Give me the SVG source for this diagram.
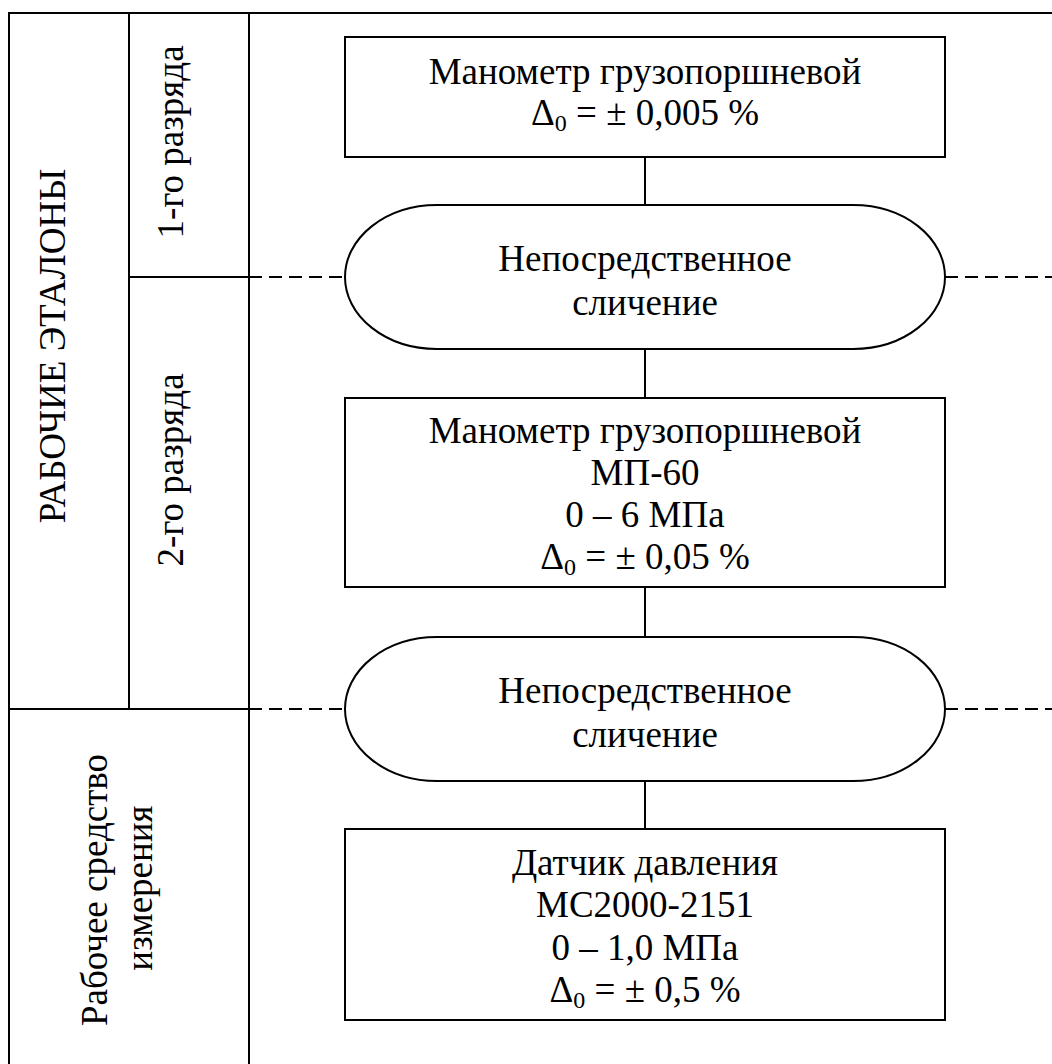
<svg xmlns="http://www.w3.org/2000/svg" width="1052" height="1064" viewBox="0 0 1052 1064">
<style>
  .ln{stroke:#000;stroke-width:2;fill:none}
  .dash{stroke:#000;stroke-width:2;fill:none;stroke-dasharray:13 7}
  .shape{stroke:#000;stroke-width:2;fill:#fff}
  .t{font-family:"Liberation Serif","Times New Roman",serif;font-size:37px;fill:#000;text-anchor:middle}
  .sub{font-size:24px}
</style>
<rect width="1052" height="1064" fill="#fff"/>
<g id="frame">
  <line class="ln" x1="9" y1="13" x2="1052" y2="13"/>
  <line class="ln" x1="9" y1="12" x2="9" y2="1064"/>
  <line class="ln" x1="129" y1="13" x2="129" y2="709"/>
  <line class="ln" x1="249" y1="13" x2="249" y2="1064"/>
  <line class="ln" x1="129" y1="277" x2="249" y2="277"/>
  <line class="ln" x1="9" y1="709" x2="249" y2="709"/>
  <text class="t" transform="translate(65,346) rotate(-90)">РАБОЧИЕ ЭТАЛОНЫ</text>
  <text class="t" transform="translate(183,142) rotate(-90)">1-го разряда</text>
  <text class="t" transform="translate(183,470) rotate(-90)">2-го разряда</text>
  <text class="t" transform="translate(107,890) rotate(-90)">Рабочее средство</text>
  <text class="t" transform="translate(152,888) rotate(-90)">измерения</text>
</g>
<g id="connectors">
  <line class="ln" x1="645" y1="157" x2="645" y2="205"/>
  <line class="ln" x1="645" y1="349" x2="645" y2="398"/>
  <line class="ln" x1="645" y1="587" x2="645" y2="637"/>
  <line class="ln" x1="645" y1="781" x2="645" y2="829"/>
  <line class="dash" x1="249" y1="277" x2="345" y2="277"/>
  <line class="dash" x1="945" y1="277" x2="1052" y2="277"/>
  <line class="dash" x1="249" y1="709" x2="345" y2="709"/>
  <line class="dash" x1="945" y1="709" x2="1052" y2="709"/>
</g>
<g id="node1">
  <rect class="shape" x="345" y="37" width="600" height="120"/>
  <text class="t" x="645" y="84">Манометр грузопоршневой</text>
  <text class="t" x="645" y="125">Δ<tspan class="sub" dy="6">0</tspan><tspan dy="-6"> = ± 0,005 %</tspan></text>
</g>
<g id="node2">
  <rect class="shape" x="345" y="205" width="600" height="144" rx="92" ry="72"/>
  <text class="t" x="645" y="271">Непосредственное</text>
  <text class="t" x="645" y="315">сличение</text>
</g>
<g id="node3">
  <rect class="shape" x="345" y="398" width="600" height="189"/>
  <text class="t" x="645" y="443">Манометр грузопоршневой</text>
  <text class="t" x="645" y="485">МП-60</text>
  <text class="t" x="645" y="527">0 – 6 МПа</text>
  <text class="t" x="645" y="569">Δ<tspan class="sub" dy="6">0</tspan><tspan dy="-6"> = ± 0,05 %</tspan></text>
</g>
<g id="node4">
  <rect class="shape" x="345" y="637" width="600" height="144" rx="92" ry="72"/>
  <text class="t" x="645" y="703">Непосредственное</text>
  <text class="t" x="645" y="747">сличение</text>
</g>
<g id="node5">
  <rect class="shape" x="345" y="829" width="600" height="191"/>
  <text class="t" x="645" y="875">Датчик давления</text>
  <text class="t" x="645" y="917">МС2000-2151</text>
  <text class="t" x="645" y="960">0 – 1,0 МПа</text>
  <text class="t" x="645" y="1002">Δ<tspan class="sub" dy="6">0</tspan><tspan dy="-6"> = ± 0,5 %</tspan></text>
</g>
</svg>
